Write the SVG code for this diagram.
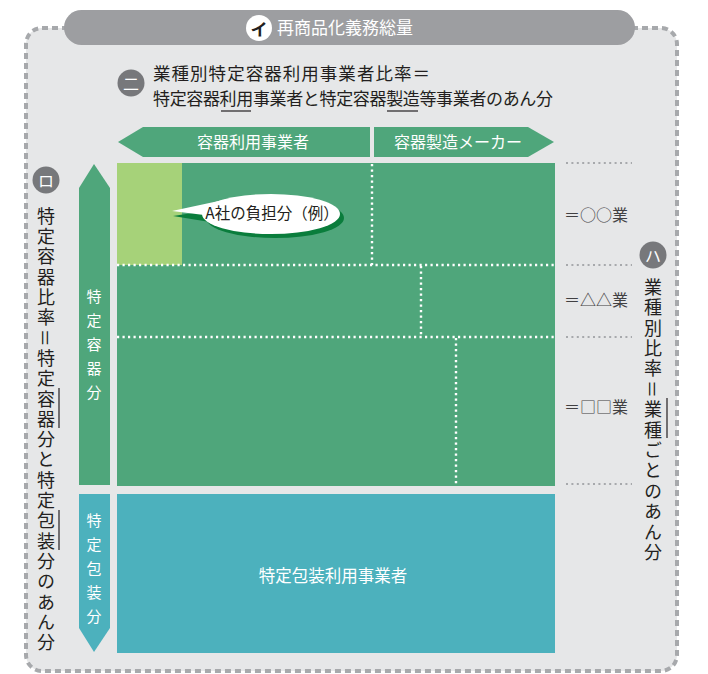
<svg xmlns="http://www.w3.org/2000/svg" width="708" height="674" viewBox="0 0 708 674">
<style>
text{font-family:"Noto Sans CJK JP","Noto Sans",sans-serif;}
.dk{fill:#231f20;}
.wt{fill:#ffffff;}
.v{text-anchor:middle;dominant-baseline:central;}
.vt{writing-mode:vertical-rl;}
.wdot{stroke:#ffffff;stroke-width:2.4;stroke-dasharray:2.2 3.3;fill:none;}
.gdot{stroke:#a7a9ac;stroke-width:2;stroke-dasharray:2 3.4;fill:none;}
.side{stroke:#231f20;stroke-width:1.2;}
</style>
<rect width="708" height="674" fill="#ffffff"/>
<g id="panel">
<rect x="26" y="28" width="651" height="643" rx="16" fill="#e6e7e8" stroke="#a7a9ac" stroke-width="4" stroke-dasharray="6 4"/>
</g>
<g id="title">
<rect x="64" y="10" width="571" height="35" rx="17.5" fill="#9d9ea1"/>
<circle cx="259" cy="28" r="13" fill="#ffffff"/>
<text x="259" y="28" class="v dk" font-size="17" font-weight="bold">イ</text>
<text x="277" y="34" class="wt" font-size="17">再商品化義務総量</text>
</g>
<g id="ratio-ni">
<circle cx="131" cy="83" r="13.5" fill="#77787b"/>
<text x="131" y="83" class="v wt" font-size="16">二</text>
<text x="153" y="80" class="dk" font-size="17.5" textLength="277" lengthAdjust="spacing">業種別特定容器利用事業者比率＝</text>
<text x="153" y="105" class="dk" font-size="17" textLength="400" lengthAdjust="spacing">特定容器利用事業者と特定容器製造等事業者のあん分</text>
<line x1="221" y1="111" x2="251" y2="111" class="side"/>
<line x1="387" y1="111" x2="418" y2="111" class="side"/>
</g>
<g id="header-user">
<polygon points="118,142 143,127 370,127 370,157 143,157" fill="#4fa67b"/>
<text x="253" y="148" class="wt" font-size="16" text-anchor="middle">容器利用事業者</text>
</g>
<g id="header-maker">
<polygon points="374,127 528,127 554,142 528,157 374,157" fill="#4fa67b"/>
<text x="458" y="148" class="wt" font-size="16" text-anchor="middle">容器製造メーカー</text>
</g>
<g id="container-block">
<rect x="117" y="163" width="438" height="323" fill="#4fa67b"/>
<rect x="117" y="163" width="65" height="102" fill="#a6d279"/>
</g>
<g id="connectors">
<line x1="117" y1="265" x2="555" y2="265" class="wdot"/>
<line x1="117" y1="337" x2="555" y2="337" class="wdot"/>
<line x1="372" y1="164" x2="372" y2="265" class="wdot"/>
<line x1="421" y1="266" x2="421" y2="337" class="wdot"/>
<line x1="456" y1="338" x2="456" y2="486" class="wdot"/>
<line x1="566" y1="163" x2="632" y2="163" class="gdot"/>
<line x1="566" y1="265" x2="632" y2="265" class="gdot"/>
<line x1="566" y1="337" x2="632" y2="337" class="gdot"/>
<line x1="566" y1="484" x2="632" y2="484" class="gdot"/>
</g>
<g id="bubble">
<polygon points="173,216 226,208 222,224" fill="#0a7d3c"/>
<ellipse cx="275" cy="218" rx="69" ry="20" fill="#0a7d3c"/>
<polygon points="172,211 228,199 212,216" fill="#ffffff"/>
<ellipse cx="271" cy="214" rx="69" ry="20" fill="#ffffff"/>
<text x="272" y="219" class="dk" font-size="15.5" text-anchor="middle">A社の負担分（例）</text>
</g>
<g id="arrow-container">
<polygon points="94,164 110,188 110,485 79,485 79,188" fill="#4fa67b"/>
<text x="94" y="288.5" class="vt wt" font-size="15" letter-spacing="9">特定容器分</text>
</g>
<g id="arrow-package">
<polygon points="79,494 110,494 110,628 94,652 79,628" fill="#4cb1bd"/>
<text x="94" y="512.5" class="vt wt" font-size="15" letter-spacing="9">特定包装分</text>
</g>
<g id="package-block">
<rect x="117" y="494" width="438" height="159" fill="#4cb1bd"/>
<text x="333" y="582" class="wt" font-size="16.5" text-anchor="middle">特定包装利用事業者</text>
</g>
<g id="industry-labels">
<text x="564" y="221" fill="#414042" font-size="16">＝○○業</text>
<text x="564" y="306" fill="#414042" font-size="16">＝△△業</text>
<text x="564" y="413" fill="#414042" font-size="16">＝□□業</text>
</g>
<g id="ratio-ro">
<circle cx="46" cy="180" r="13.5" fill="#77787b"/>
<text x="46" y="180" class="v wt" font-size="16">ロ</text>
<text x="46" y="207" class="vt dk" font-size="18" letter-spacing="2.3">特定容器比率＝特定容器分と特定包装分のあん分</text>
<line x1="59" y1="388" x2="59" y2="428" class="side"/>
<line x1="59" y1="510" x2="59" y2="550" class="side"/>
</g>
<g id="ratio-ha">
<circle cx="653" cy="255" r="13.5" fill="#77787b"/>
<text x="653" y="255" class="v wt" font-size="16">ハ</text>
<text x="653" y="278" class="vt dk" font-size="18" letter-spacing="2.4">業種別比率＝業種ごとのあん分</text>
<line x1="667" y1="398" x2="667" y2="438" class="side"/>
</g>
</svg>
